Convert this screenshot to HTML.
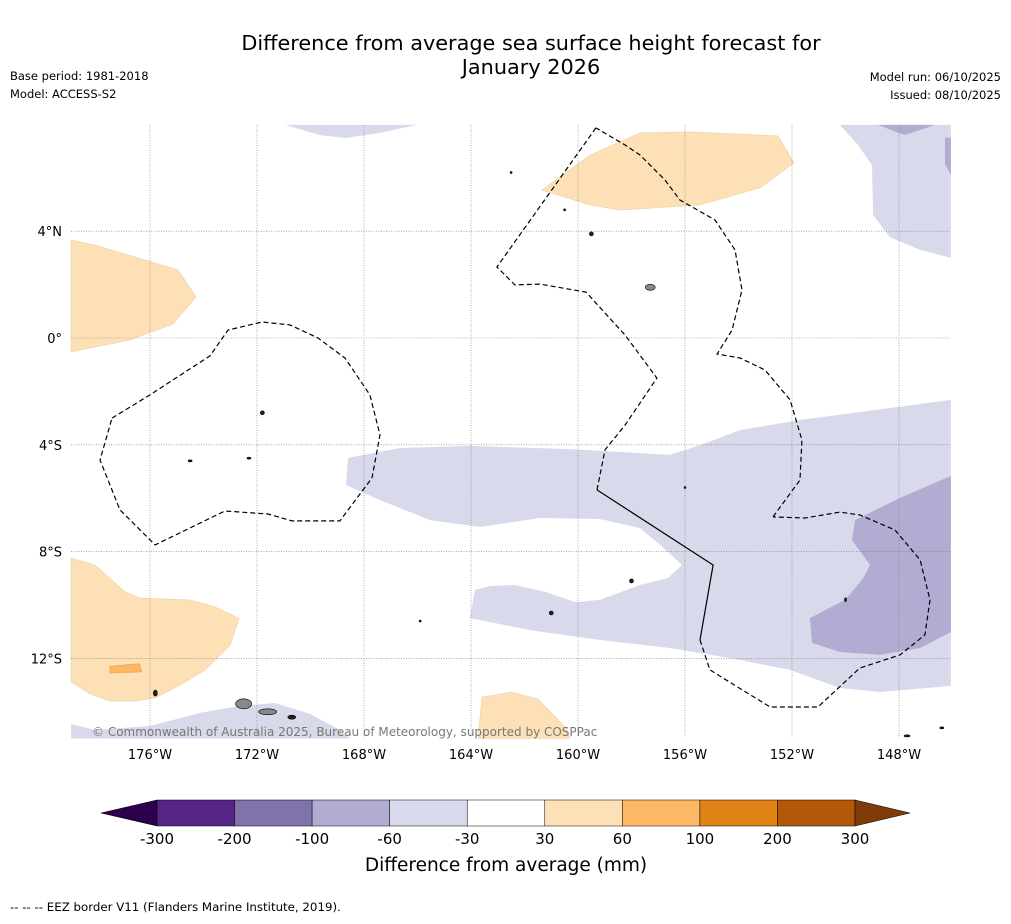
<!DOCTYPE html>
<html><head><meta charset="utf-8"><style>
body{margin:0;background:#fff;font-family:"Liberation Sans","DejaVu Sans",sans-serif;}
svg text{font-family:"DejaVu Sans","Liberation Sans",sans-serif;}
</style></head><body>
<svg id="map" width="1011" height="919" viewBox="0 0 1011 919" xmlns="http://www.w3.org/2000/svg">
<text x="531" y="50" font-size="20.8" text-anchor="middle">Difference from average sea surface height forecast for</text>
<text x="531" y="74" font-size="20.8" text-anchor="middle">January 2026</text>
<text x="10" y="80" font-size="11.5">Base period: 1981-2018</text>
<text x="10" y="98" font-size="11.5">Model: ACCESS-S2</text>
<text x="1001" y="81" font-size="11.5" text-anchor="end">Model run: 06/10/2025</text>
<text x="1001" y="99" font-size="11.5" text-anchor="end">Issued: 08/10/2025</text>
<g id="fills"></g><g id="grid"></g><g id="eez"></g><g id="isl"></g><g id="ticks"></g><g id="cbar"></g>
<text x="92" y="736" font-size="12" fill="#777">© Commonwealth of Australia 2025, Bureau of Meteorology, supported by COSPPac</text>
<text x="506" y="871" font-size="18.5" text-anchor="middle">Difference from average (mm)</text>
<text x="10" y="911" font-size="11.8">--  --  -- EEZ border V11 (Flanders Marine Institute, 2019).</text>
</svg>
<script>
const lonTicks=[176,172,168,164,160,156,152,148];
const latTicks=[4,0,-4,-8,-12];
const latLabels=["4°N","0°","4°S","8°S","12°S"];
const cbarBounds=[-300,-200,-100,-60,-30,30,60,100,200,300];
const cbarColors=["#552586","#8073ac","#b2abd2","#d8daeb","#ffffff","#fee0b6","#fdb863","#e08214","#b35806"];
const regOrangeTop=[[161.35,5.54],[159.55,6.85],[157.68,7.68],[155.81,7.72],[152.52,7.57],[151.93,6.55],[153.2,5.62],[155.44,4.98],[158.43,4.79],[159.55,4.98]];
const regOrangeLeft=[[178.95,3.67],[178.06,3.48],[174.95,2.55],[174.28,1.54],[175.14,0.52],[176.75,-0.07],[178.95,-0.52]];
const regOrangeSW=[[178.95,-8.24],[178.06,-8.5],[176.93,-9.51],[176.37,-9.74],[174.5,-9.81],[173.57,-10.07],[172.67,-10.49],[173.0,-11.5],[173.94,-12.43],[174.88,-13.0],[175.81,-13.48],[176.56,-13.6],[177.5,-13.6],[178.24,-13.33],[178.95,-12.88]];
const regOrange2=[[177.5,-12.3],[176.4,-12.2],[176.3,-12.5],[177.5,-12.55]];
const regOrangeS=[[163.74,-15],[163.59,-13.45],[162.47,-13.26],[161.5,-13.52],[160.45,-14.6],[160.3,-15]];
const regPurpleTop=[[170.95,7.98],[169.64,7.6],[168.71,7.49],[167.4,7.68],[166.02,7.98]];
const regPurpleNE=[[150.21,7.98],[149.53,7.23],[149.01,6.48],[148.97,4.61],[148.34,3.78],[147.21,3.3],[146.06,3.0],[146.06,7.98]];
const regPurpleNE2=[[148.79,7.98],[147.78,7.6],[146.65,7.98]];
const regPurpleNE3=[[146.28,7.5],[146.06,7.5],[146.06,6.1],[146.28,6.5]];
const regPurpleBand=[[168.6,-4.49],[166.65,-4.12],[164.04,-4.04],[160.3,-4.16],[156.56,-4.38],[155.44,-4.01],[153.94,-3.45],[151.7,-3.07],[146.06,-2.32],[146.06,-13.03],[148.71,-13.26],[150.21,-13.11],[152.07,-12.43],[154.32,-11.99],[156.56,-11.61],[159.18,-11.31],[161.79,-10.94],[164.04,-10.49],[163.85,-9.44],[163.29,-9.29],[162.36,-9.25],[161.23,-9.51],[160.11,-9.89],[159.18,-9.81],[157.68,-9.25],[156.64,-8.99],[156.11,-8.5],[156.93,-7.75],[157.68,-7.12],[159.18,-6.78],[161.42,-6.74],[163.66,-7.08],[165.53,-6.82],[167.4,-6.07],[168.67,-5.51]];
const regPurpleDark=[[149.76,-7.57],[149.64,-6.82],[147.96,-5.99],[146.06,-5.17],[146.06,-11.01],[147.21,-11.61],[148.71,-11.87],[150.21,-11.76],[151.25,-11.42],[151.33,-10.49],[150.02,-9.81],[149.38,-9.06],[149.08,-8.5]];
const regPurpleSW=[[178.95,-14.46],[178.06,-14.68],[176,-14.53],[174.13,-14.04],[172.64,-13.78],[171.33,-13.67],[170.02,-14.08],[168.9,-14.68],[168.52,-15],[178.95,-15]];
const eezGilbert=[[177.42,-3.0],[176.0,-2.13],[173.76,-0.67],[173.08,0.3],[171.81,0.6],[170.77,0.49],[169.72,0],[168.71,-0.75],[167.78,-2.13],[167.4,-3.63],[167.7,-5.24],[168.9,-6.85],[170.69,-6.85],[171.59,-6.59],[173.2,-6.48],[175.81,-7.75],[177.12,-6.44],[177.87,-4.57],[177.42,-3.0]];
const eezLine1=[[159.33,7.87],[163.03,2.66],[162.36,1.99],[161.42,2.02],[159.7,1.72],[158.24,0.11],[157.05,-1.5],[158.24,-3.26],[158.99,-4.19],[159.29,-5.69]];
const eezSolid=[[159.29,-5.69],[154.95,-8.5],[155.44,-11.31]];
const eezLine2=[[155.44,-11.31],[155.07,-12.43],[152.82,-13.82],[151.03,-13.82],[149.46,-12.36],[147.96,-11.87],[147.03,-11.12],[146.84,-9.81],[147.21,-8.31],[148.15,-7.19],[149.46,-6.63],[150.21,-6.52],[151.51,-6.74],[152.71,-6.7]];
const eezLine3=[[152.71,-6.7],[151.7,-5.32],[151.63,-3.82],[152.07,-2.32],[153.01,-1.2],[153.94,-0.75],[154.8,-0.6],[154.24,0.3],[153.87,1.8],[154.13,3.3],[154.88,4.42],[156.19,5.17],[156.75,5.92],[157.68,6.85],[158.24,7.23],[159.33,7.87]];
const islands=[[172.5,-13.7,8,5],[171.6,-14.0,9,3],[170.7,-14.2,4,2],[175.8,-13.3,2,3],[157.3,1.9,5,3],[159.5,3.9,2,2],[171.8,-2.8,2,2],[172.3,-4.5,2,1],[174.5,-4.6,2,1],[156.0,-5.6,1,1],[158.0,-9.1,2,2],[161.0,-10.3,2,2],[165.9,-10.6,1,1],[150.0,-9.8,1,2],[147.7,-14.9,3,1],[146.4,-14.6,2,1],[162.5,6.2,1,1],[160.5,4.8,1,1]];

const NS="http://www.w3.org/2000/svg";
const X=lonW=>150-(lonW-176)*26.75;
const Y=lat=>338-lat*26.7;
function mk(tag,attrs,parent){const e=document.createElementNS(NS,tag);for(const k in attrs)e.setAttribute(k,attrs[k]);document.getElementById(parent).appendChild(e);return e;}
const pts=a=>a.map(p=>X(p[0]).toFixed(1)+","+Y(p[1]).toFixed(1)).join(" ");
const fills=[[regPurpleTop,"#d8daeb","purple-region-north"],[regPurpleNE,"#d8daeb","purple-region-northeast"],[regPurpleNE2,"#b2abd2","dark-purple-northeast"],[regPurpleNE3,"#b2abd2","dark-purple-edge"],[regPurpleBand,"#d8daeb","purple-band-south"],[regPurpleDark,"#b2abd2","dark-purple-southeast"],[regPurpleSW,"#d8daeb","purple-region-southwest"],[regOrangeTop,"#fee0b6","orange-region-north"],[regOrangeLeft,"#fee0b6","orange-region-west"],[regOrangeSW,"#fee0b6","orange-region-southwest"],[regOrange2,"#fdb863","orange-dark-southwest"],[regOrangeS,"#fee0b6","orange-region-south"]];
fills.forEach(f=>{const e=mk("polygon",{points:pts(f[0]),fill:f[1],stroke:f[1]==="#fdb863"?"#e9a040":"#ead2a8","stroke-width":f[1]==="#d8daeb"||f[1]==="#b2abd2"?0:0.6},"fills");

});
lonTicks.forEach(l=>{const g=mk("line",{x1:X(l),x2:X(l),y1:125,y2:738,stroke:"#777","stroke-width":0.6,"stroke-dasharray":"1,1.5"},"grid");


const t=mk("text",{x:X(l),y:759,"font-size":13,"text-anchor":"middle"},"ticks");t.textContent=l+"°W";

});
latTicks.forEach((l,i)=>{const g=mk("line",{x1:71,x2:951,y1:Y(l),y2:Y(l),stroke:"#777","stroke-width":0.6,"stroke-dasharray":"1,1.5"},"grid");


const t=mk("text",{x:62,y:Y(l)+5,"font-size":13,"text-anchor":"end"},"ticks");t.textContent=latLabels[i];

});
[[eezGilbert,true],[eezLine1,true],[eezSolid,false],[eezLine2,true],[eezLine3,true]].forEach(d=>{const e=mk("polyline",{points:pts(d[0]),fill:"none",stroke:"#000","stroke-width":1.2,"stroke-dasharray":d[1]?"5,3":"none"},"eez");

});
islands.forEach(s=>{const e=mk("ellipse",{cx:X(s[0]),cy:Y(s[1]),rx:s[2],ry:s[3],fill:s[2]>4?"#888":"#222",stroke:"#000","stroke-width":0.6},"isl");

});
const cx=v=>157+cbarBounds.indexOf(v)*(855-157)/(cbarBounds.length-1);
cbarColors.forEach((c,i)=>{const e=mk("rect",{x:cx(cbarBounds[i]),y:800,width:cx(cbarBounds[i+1])-cx(cbarBounds[i]),height:26,fill:c,stroke:"#000","stroke-width":0.5},"cbar");

});
cbarBounds.forEach(v=>{const t=mk("text",{x:cx(v),y:844,"font-size":15,"text-anchor":"middle"},"cbar");t.textContent=v;

});
const tl=mk("polygon",{points:"101,813 157,800 157,826",fill:"#2d004b",stroke:"#000","stroke-width":0.5},"cbar");


const tr=mk("polygon",{points:"910,813 855,800 855,826",fill:"#7f3b08",stroke:"#000","stroke-width":0.5},"cbar");


</script>
</body></html>
